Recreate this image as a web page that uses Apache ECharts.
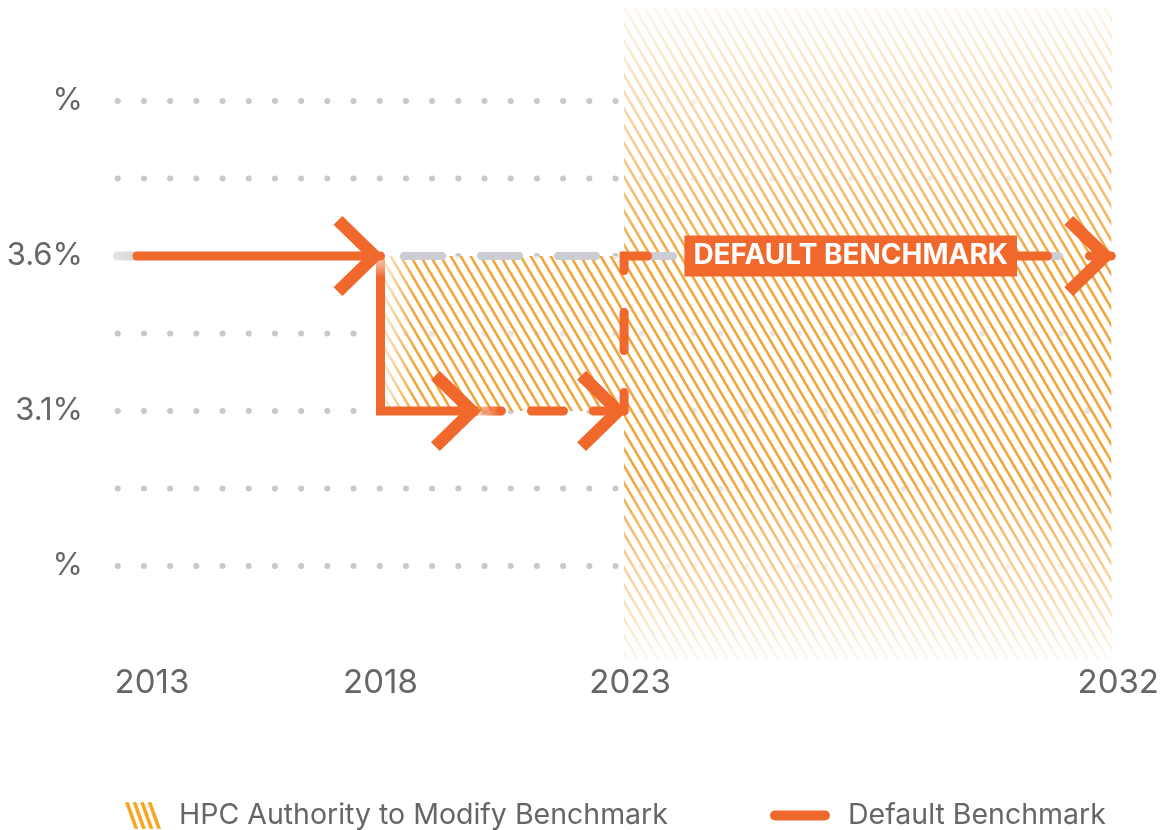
<!DOCTYPE html>
<html><head><meta charset="utf-8">
<script src="https://cdn.jsdelivr.net/npm/echarts@6/dist/echarts.min.js"></script>
<style>html,body{margin:0;padding:0;background:#fff}#chart{width:1162px;height:830px}</style>
</head><body><div id="chart"></div>
<script>
// ---------------- data ----------------
// schematic timeline: each labelled year sits at a timeline step
const xTickLabels = ['2013', '2018', '2023', '2032'];
const xTickSteps = [0, 5, 10, 20];
const yTickValues = [4.1, 3.6, 3.1, 2.6];
const yTickLabels = ['%', '3.6%', '3.1%', '%'];
const yGridValues = [4.1, 3.85, 3.6, 3.35, 3.1, 2.85, 2.6];

const defaultBenchmark = [[0, 3.6], [5, 3.6]];          // 2013 -> 2018 at 3.6%
const dropPath = [[5, 3.6], [5, 3.1], [7, 3.1]];          // 2018 drop to 3.1%
const reducedDashed = [[7, 3.1], [10, 3.1]];              // continues to 2023
const returnPath = [[10, 3.1], [10, 3.6], [20, 3.6]];     // back to 3.6% until 2032
const greyReference = [[5, 3.6], [20, 3.6]];
const arrowTips = [[5, 3.6], [7, 3.1], [10, 3.1], [20, 3.6]];

const hatchX0 = [5, 10];
const hatchX1 = [10, 20];
const hatchY0 = [3.1, 2.3];
const hatchY1 = [3.6, 4.4];

const benchmarkLabel = 'DEFAULT BENCHMARK';
const seriesNames = ['HPC Authority to Modify Benchmark', 'Default Benchmark'];

// ---------------- chart ----------------
const X_MIN = -0.45, X_MAX = 20, Y_MIN = 2.3, Y_MAX = 4.4;
const ORANGE = '#F0682C';
const HATCH = '#F3A53C';
const TEXT = '#666666';
const FONT = 'Inter';

function makeHatch() {
  const c = document.createElement('canvas');
  c.width = 10; c.height = 17;
  const ctx = c.getContext('2d');
  ctx.strokeStyle = HATCH;
  ctx.lineWidth = 2.6;
  for (let k = -2; k <= 2; k++) {
    ctx.beginPath();
    ctx.moveTo(10 * k - 10, -17);
    ctx.lineTo(10 * k + 20, 34);
    ctx.stroke();
  }
  return c;
}
const hatchImg = makeHatch();

const hatchData = hatchX0.map((x, i) => [x, hatchX1[i], hatchY0[i], hatchY1[i]]);

const gridSeries = yGridValues.map(v => ({
  type: 'line', silent: true, z: 1, symbol: 'none',
  data: [[X_MIN + 0.055, v], [X_MAX, v]],
  lineStyle: { color: '#c9c9c9', width: 6, type: [0.1, 26.1], cap: 'round' }
}));

const chevron = 'path://M8.49,0 L47.73,39.24 L8.49,78.49 L0,70 L30.75,39.24 L0,8.49 Z';
const midX = (returnPath[1][0] + returnPath[2][0]) / 2;

// small per-label nudges (visual alignment of tick labels)
const labelShift = { '2013': 30, '2018': 0, '2023': 12, '2032': 14 };

const option = {
  animation: false,
  backgroundColor: '#fff',
  grid: { left: 115, right: 49, top: 8, bottom: 171 },
  xAxis: {
    type: 'value', min: X_MIN, max: X_MAX,
    axisLine: { show: false }, axisTick: { show: false }, splitLine: { show: false },
    axisLabel: {
      customValues: xTickSteps, margin: 8,
      formatter: v => {
        const i = xTickSteps.findIndex(s => Math.abs(s - v) < 1e-6);
        if (i < 0) return '';
        return '{s' + i + '|' + xTickLabels[i] + '}';
      },
      rich: Object.fromEntries(xTickLabels.map((l, i) => ['s' + i, {
        padding: [0, 0, 0, labelShift[l] || 0], color: TEXT, fontFamily: FONT, fontSize: 33
      }])),
      color: TEXT, fontFamily: FONT, fontSize: 33
    }
  },
  yAxis: {
    type: 'value', min: Y_MIN, max: Y_MAX,
    axisLine: { show: false }, axisTick: { show: false }, splitLine: { show: false },
    axisLabel: {
      customValues: yTickValues, margin: 32,
      formatter: v => { const i = yTickValues.findIndex(s => Math.abs(s - v) < 1e-6); return i >= 0 ? yTickLabels[i] : ''; },
      color: TEXT, fontFamily: FONT, fontSize: 31
    }
  },
  legend: [
    {
      left: 120, top: 796, itemWidth: 36, itemHeight: 28,
      data: [{ name: seriesNames[0], icon: 'path://M0,0 L4,0 L14,28 L10,28 Z M8,0 L12,0 L22,28 L18,28 Z M16,0 L20,0 L30,28 L26,28 Z M24,0 L28,0 L38,28 L34,28 Z', itemStyle: { color: '#F5A623' } }],
      textStyle: { color: TEXT, fontFamily: FONT, fontSize: 28.5, padding: [0, 0, 0, 13] }
    },
    {
      left: 765, top: 796, itemWidth: 60, itemHeight: 11,
      data: [{ name: seriesNames[1], icon: 'path://M5,0 L55,0 A5,5 0 0 1 55,10 L5,10 A5,5 0 0 1 5,0 Z', itemStyle: { color: ORANGE } }],
      textStyle: { color: TEXT, fontFamily: FONT, fontSize: 28.5, padding: [0, 0, 0, 13] }
    }
  ],
  series: [
    ...gridSeries,
    {
      name: seriesNames[0], type: 'custom', z: 2, silent: true,
      itemStyle: { color: '#F5A623' },
      data: hatchData,
      renderItem: function (params, api) {
        const tl = api.coord([api.value(0), api.value(3)]);
        const br = api.coord([api.value(1), api.value(2)]);
        const shape = { x: tl[0], y: tl[1], width: br[0] - tl[0], height: br[1] - tl[1] };
        const fullHeight = params.dataIndex === 1;
        const fade = fullHeight
          ? { type: 'linear', x: 0, y: 0, x2: 0, y2: 1, colorStops: [
              { offset: 0, color: 'rgba(255,255,255,0.9)' },
              { offset: 0.4, color: 'rgba(255,255,255,0)' },
              { offset: 0.72, color: 'rgba(255,255,255,0)' },
              { offset: 1, color: 'rgba(255,255,255,0.92)' }] }
          : { type: 'linear', x: 0, y: 0, x2: 1, y2: 0, colorStops: [
              { offset: 0, color: 'rgba(255,255,255,0.85)' },
              { offset: 0.14, color: 'rgba(255,255,255,0)' },
              { offset: 1, color: 'rgba(255,255,255,0)' }] };
        return {
          type: 'group',
          children: [
            { type: 'rect', shape, style: { fill: 'rgba(255,255,255,0.55)' } },
            { type: 'rect', shape, style: { fill: { image: hatchImg, repeat: 'repeat' } } },
            { type: 'rect', shape, style: { fill: fade } }
          ]
        };
      }
    },
    {
      type: 'line', z: 3, silent: true, symbol: 'none', data: greyReference,
      lineStyle: { color: '#cacdd1', width: 8, type: [38, 39], dashOffset: 53.5, cap: 'round' }
    },
    {
      type: 'line', z: 3, silent: true, symbol: 'none',
      data: [[X_MIN + 0.05, defaultBenchmark[0][1]], defaultBenchmark[0]],
      lineStyle: { width: 9, cap: 'round', color: { type: 'linear', x: 0, y: 0, x2: 1, y2: 0, colorStops: [
        { offset: 0, color: '#e6e6e6' }, { offset: 1, color: '#d2d2d2' }] } }
    },
    {
      name: seriesNames[1], type: 'line', z: 4, silent: true, symbol: 'none', data: defaultBenchmark,
      itemStyle: { color: ORANGE },
      lineStyle: { color: ORANGE, width: 9, cap: 'round' }
    },
    {
      type: 'line', z: 4, silent: true, symbol: 'none', data: dropPath,
      lineStyle: { width: 9, cap: 'butt', join: 'miter', color: { type: 'linear', x: 0, y: 0, x2: 0, y2: 1, colorStops: [
        { offset: 0, color: 'rgba(240,104,44,0.1)' }, { offset: 0.16, color: ORANGE }, { offset: 1, color: ORANGE }] } }
    },
    {
      type: 'line', z: 4, silent: true, symbol: 'none', data: reducedDashed,
      lineStyle: { width: 9, cap: 'round', type: [32, 30], dashOffset: 8.5, color: { type: 'linear', x: 0, y: 0, x2: 1, y2: 0, colorStops: [
        { offset: 0, color: 'rgba(240,104,44,0.15)' }, { offset: 0.16, color: ORANGE }, { offset: 1, color: ORANGE }] } }
    },
    {
      type: 'line', z: 4, silent: true, symbol: 'none', data: returnPath,
      lineStyle: { color: ORANGE, width: 9, cap: 'round', join: 'miter', type: [38, 42], dashOffset: 19.5 },
      markPoint: {
        silent: true, symbol: 'rect', symbolSize: 1, itemStyle: { color: 'rgba(0,0,0,0)' },
        data: [{ coord: [midX, returnPath[2][1]] }],
        label: {
          show: true, position: 'inside', formatter: benchmarkLabel, offset: [-17, 0],
          color: '#fff', fontFamily: FONT, fontWeight: 700, fontSize: 28, lineHeight: 30,
          backgroundColor: ORANGE, padding: [6, 9, 5, 9]
        }
      }
    },
    {
      type: 'scatter', z: 5, silent: true, data: arrowTips,
      symbol: chevron, symbolSize: [50, 80], symbolOffset: [-22, 0],
      itemStyle: { color: ORANGE, opacity: 1 }
    }
  ]
};
const chart = echarts.init(document.getElementById('chart'));
chart.setOption(option);
</script>
</body></html>
